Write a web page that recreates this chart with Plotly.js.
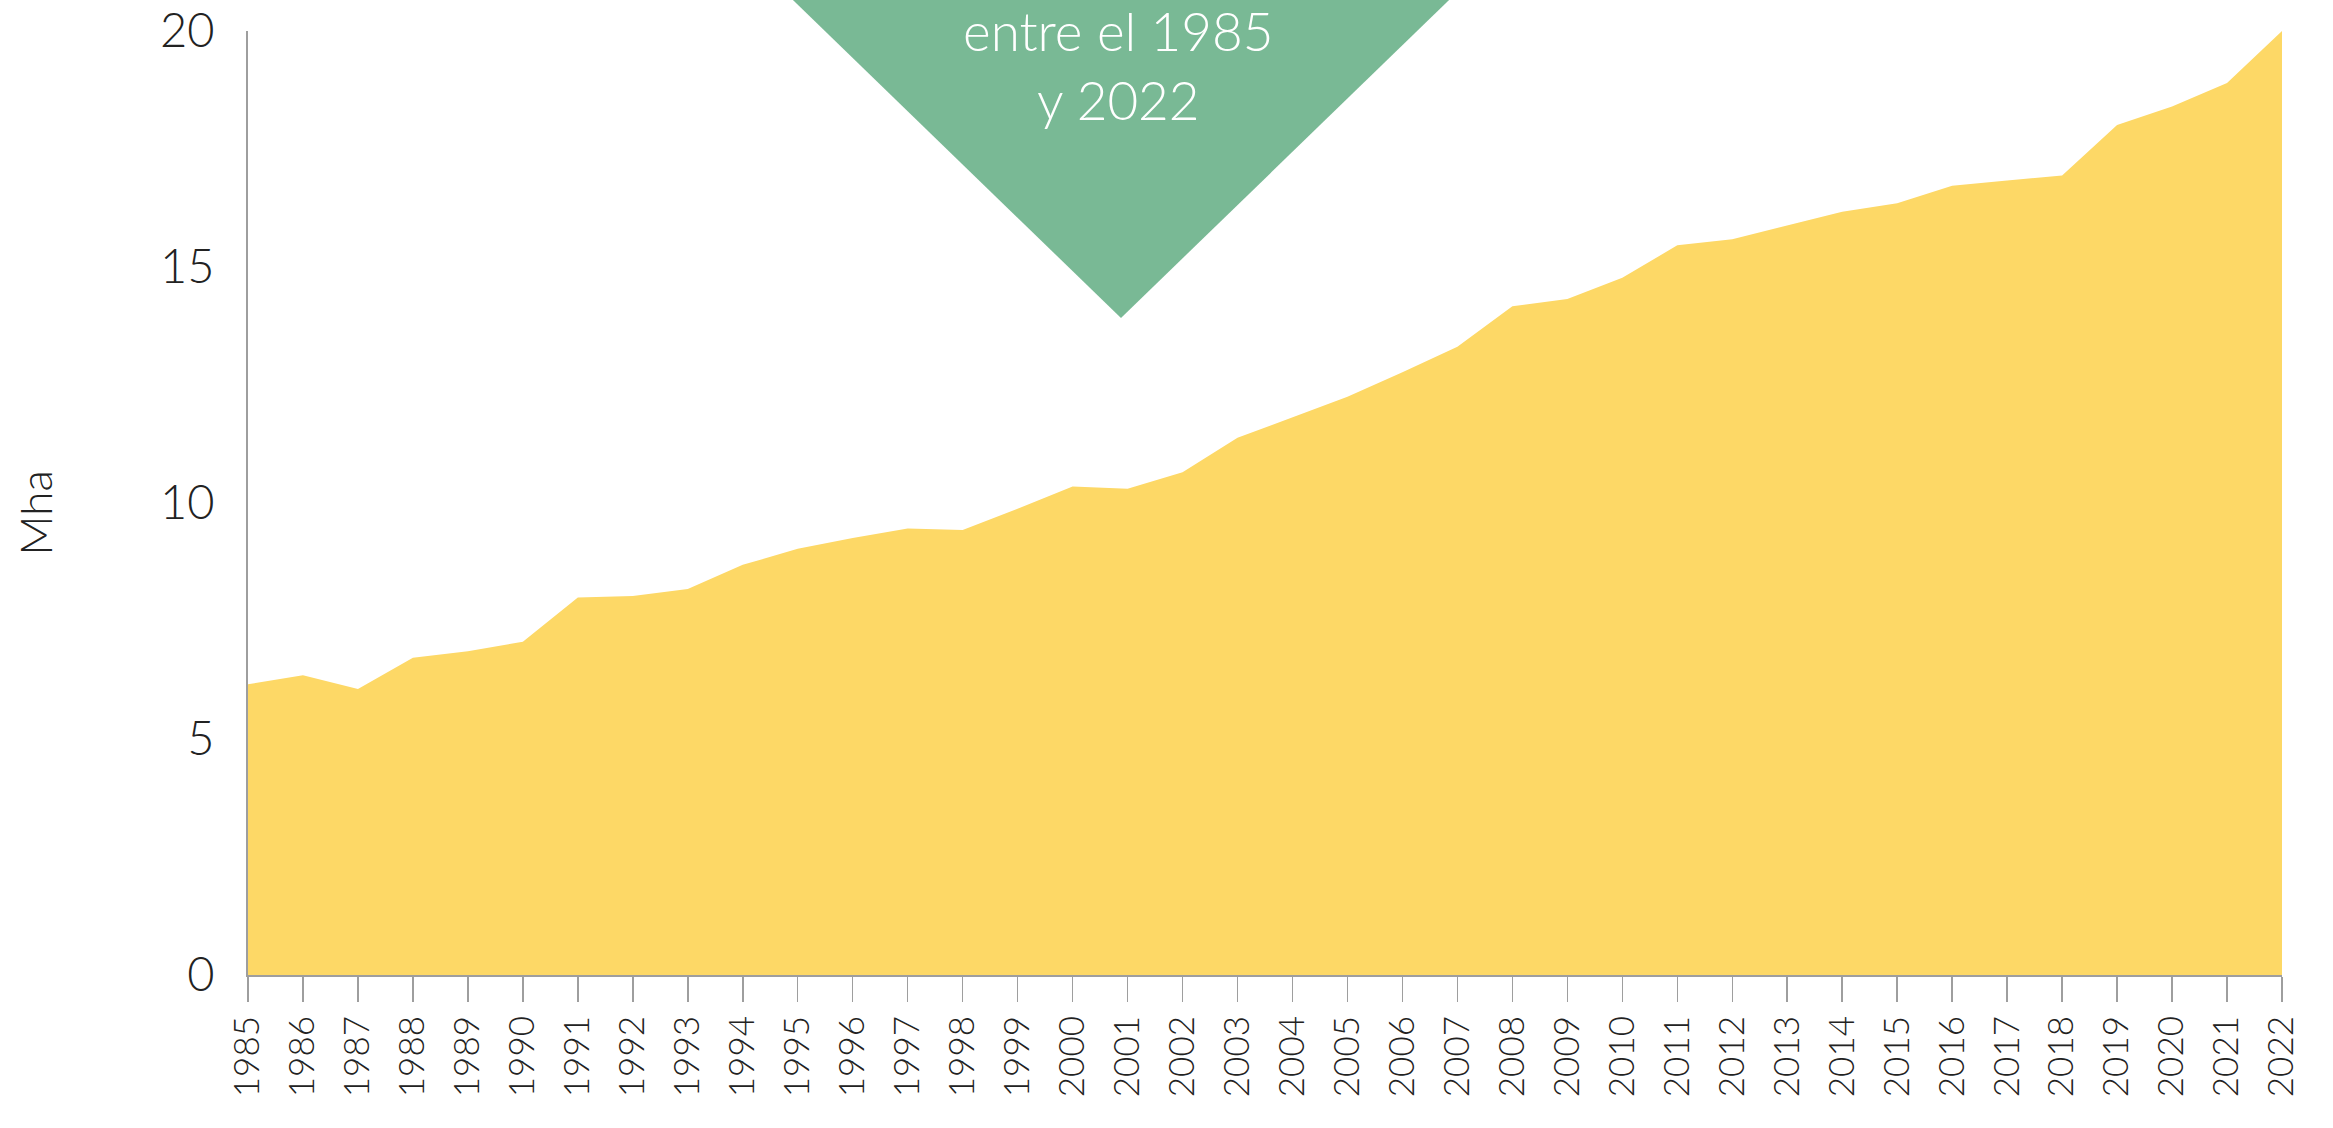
<!DOCTYPE html>
<html>
<head>
<meta charset="utf-8">
<script src="https://cdn.plot.ly/plotly-3.0.1.min.js"></script>
<style>
  html, body { margin: 0; padding: 0; background: #ffffff; }
  #chart { width: 2333px; height: 1128px; }
</style>
</head>
<body>
<div id="chart"></div>
<script>
const years = [1985,1986,1987,1988,1989,1990,1991,1992,1993,1994,1995,1996,1997,1998,1999,2000,2001,2002,2003,2004,2005,2006,2007,2008,2009,2010,2011,2012,2013,2014,2015,2016,2017,2018,2019,2020,2021,2022];
const areaMha = [6.16,6.35,6.06,6.72,6.86,7.06,8.00,8.03,8.18,8.69,9.03,9.26,9.46,9.43,9.88,10.35,10.30,10.65,11.38,11.81,12.25,12.77,13.31,14.17,14.32,14.77,15.46,15.59,15.88,16.17,16.35,16.72,16.83,16.94,18.01,18.40,18.90,20.0];
const yTicks = [0,5,10,15,20];
const yTitle = "Mha";
const calloutText = "entre el 1985<br>y 2022";

const FONT = "Lato, 'Open Sans', 'Noto Sans', sans-serif";
const YELLOW = "#FDD866";
const GREEN = "#79B995";
const AXIS = "#9e9e9e";

const trace = {
  x: years,
  y: areaMha,
  type: "scatter",
  mode: "lines",
  fill: "tozeroy",
  fillcolor: YELLOW,
  line: { color: YELLOW, width: 0 },
  hoverinfo: "x+y"
};

const layout = {
  width: 2333,
  height: 1128,
  margin: { l: 248, r: 51, t: 31, b: 153 },
  paper_bgcolor: "#ffffff",
  plot_bgcolor: "#ffffff",
  showlegend: false,
  font: { family: FONT, color: "#222222", weight: 300 },
  xaxis: {
    range: [1985, 2022],
    tickmode: "array",
    tickvals: years,
    ticktext: years.map(String),
    tickangle: -90,
    ticks: "outside",
    ticklen: 25,
    tickwidth: 1.5,
    tickcolor: AXIS,
    showline: true,
    linecolor: AXIS,
    linewidth: 2,
    showgrid: false,
    zeroline: false,
    tickfont: { family: FONT, size: 35, color: "#222222", weight: 300 },
    automargin: false
  },
  yaxis: {
    range: [0, 20],
    tickmode: "array",
    tickvals: yTicks,
    ticktext: yTicks.map(String),
    ticks: "outside",
    ticklen: 22,
    tickcolor: "rgba(0,0,0,0)",
    showline: true,
    linecolor: AXIS,
    linewidth: 2,
    showgrid: false,
    zeroline: false,
    tickfont: { family: FONT, size: 47, color: "#222222", weight: 300 },
    automargin: false
  },
  shapes: [
    {
      type: "path",
      xref: "paper",
      yref: "paper",
      path: "M 0.2679 1.0328 L 0.5905 1.0328 L 0.4292 0.696 Z",
      fillcolor: GREEN,
      line: { width: 0 },
      layer: "above"
    }
  ],
  annotations: [
    {
      text: yTitle,
      xref: "paper",
      yref: "paper",
      x: -0.1047,
      y: 0.489,
      textangle: -90,
      showarrow: false,
      xanchor: "center",
      yanchor: "middle",
      font: { family: FONT, size: 44, color: "#222222", weight: 300 }
    },
    {
      text: calloutText,
      xref: "paper",
      yref: "paper",
      x: 0.4282,
      y: 0.964,
      showarrow: false,
      xanchor: "center",
      yanchor: "middle",
      align: "center",
      font: { family: FONT, size: 53, color: "#ffffff", weight: 300 }
    }
  ]
};

Plotly.newPlot("chart", [trace], layout, { displayModeBar: false, staticPlot: true });
</script>
</body>
</html>
